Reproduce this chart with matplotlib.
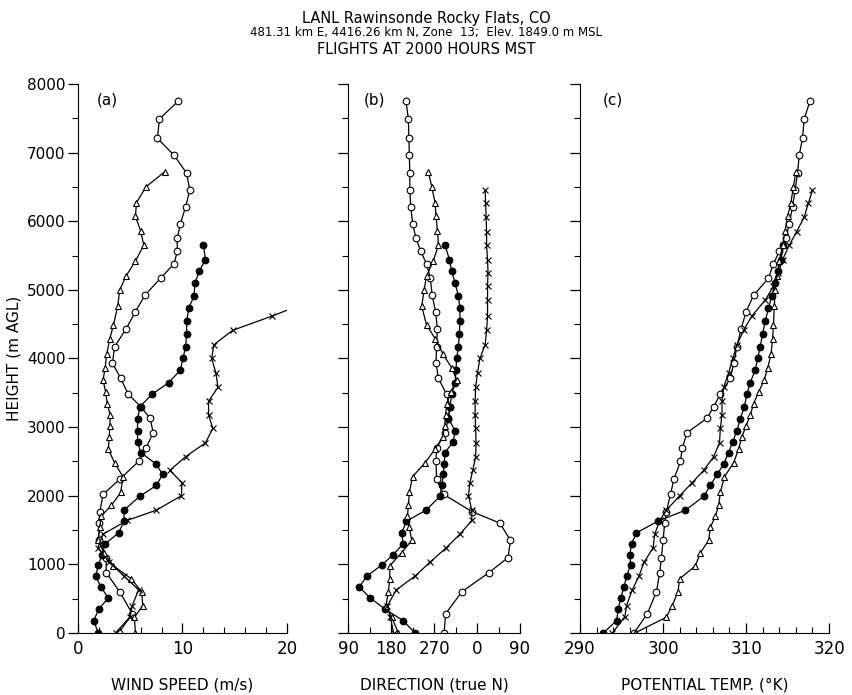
import matplotlib
matplotlib.use("Agg")
import matplotlib.pyplot as plt
import numpy as np
from matplotlib.ticker import MultipleLocator

# ---- flight 1: open circles ----
h_open = [0, 280, 600, 880, 1100, 1350, 1600, 1770, 2020, 2240, 2500, 2690, 2920, 3130, 3300,
          3480, 3710, 3930, 4170, 4430, 4680, 4920, 5170, 5380, 5560, 5750, 5960, 6210, 6450,
          6700, 6960, 7210, 7490, 7750]
ws_open = [3.9, 5.2, 4.0, 2.7, 2.7, 2.0, 2.0, 2.1, 2.4, 4.0, 5.8, 6.5, 7.2, 6.9, 6.0,
           4.8, 4.1, 3.3, 3.5, 4.6, 5.5, 6.4, 7.9, 9.2, 9.5, 9.5, 9.8, 10.3, 10.7,
           10.4, 9.2, 7.6, 7.8, 9.6]
wd_open = [291, 294, 328, 25, 65, 70, 48, 349, 290, 275, 274, 275, 293, 300, 303,
           296, 279, 274, 275, 277, 273, 266, 262, 254, 242, 232, 225, 221, 219,
           219, 218, 217, 216, 211]
th_open = [296.5, 298.1, 299.2, 299.6, 299.8, 300.0, 300.2, 300.4, 300.9, 301.3, 302.1, 302.3,
           302.9, 305.3, 306.1, 306.9, 308.1, 308.5, 308.9, 309.4, 310.0, 310.9, 312.7, 313.3,
           314.0, 314.8, 315.2, 315.6, 315.9, 316.2, 316.4, 316.8, 317.0, 317.7]

# ---- flight 2: filled circles ----
h_fill = [0, 180, 350, 510, 670, 830, 990, 1140, 1300, 1460, 1630, 1790, 1990, 2150, 2310,
          2460, 2630, 2790, 2950, 3120, 3300, 3480, 3650, 3830, 4000, 4170, 4360, 4540,
          4730, 4910, 5100, 5270, 5440, 5650]
ws_fill = [1.95, 1.5, 2.0, 2.9, 2.2, 1.7, 1.95, 2.3, 2.6, 3.9, 4.4, 4.4, 5.9, 7.5, 8.1,
           7.5, 6.0, 5.7, 5.7, 5.7, 5.95, 7.1, 8.7, 9.8, 10.05, 10.3, 10.4, 10.4,
           10.6, 11.1, 11.2, 11.6, 12.2, 12.0]
wd_fill = [230, 205, 167, 136, 113, 129, 160, 184, 205, 202, 212, 253, 282, 286, 289,
           291, 293, 310, 314, 300, 303, 307, 314, 316, 317, 321, 323, 324,
           324, 321, 314, 307, 302, 293]
th_fill = [292.8, 294.4, 294.6, 294.9, 295.3, 295.6, 296.1, 296.0, 296.2, 296.8, 299.4, 302.7,
           304.9, 305.7, 306.5, 307.3, 307.9, 308.4, 308.9, 309.3, 309.8, 310.1, 310.5, 311.1,
           311.4, 311.7, 312.0, 312.3, 312.7, 313.1, 313.5, 313.8, 314.2, 314.5]

# ---- flight 3: triangles ----
h_tri = [0, 230, 400, 600, 790, 980, 1170, 1350, 1540, 1700, 1860, 2050, 2280, 2480, 2680,
         2860, 3020, 3170, 3340, 3510, 3690, 3860, 4060, 4290, 4490, 4760, 5000, 5200,
         5420, 5650, 5860, 6070, 6270, 6500, 6720]
ws_tri = [5.5, 5.4, 6.2, 6.1, 5.1, 3.4, 2.5, 1.9, 2.1, 2.2, 3.2, 4.1, 4.3, 3.5, 2.9,
          3.0, 3.05, 3.1, 2.8, 2.65, 2.4, 2.6, 2.75, 3.05, 3.4, 3.8, 4.0, 4.6,
          5.5, 6.3, 6.0, 5.5, 5.6, 6.5, 8.3]
wd_tri = [195, 181, 169, 174, 177, 177, 202, 223, 218, 214, 216, 218, 225, 251, 272,
          288, 292, 294, 296, 305, 317, 307, 289, 272, 254, 244, 249, 254,
          268, 279, 277, 274, 272, 265, 258]
th_tri = [296.6, 300.4, 301.1, 301.8, 302.0, 303.9, 304.5, 305.5, 305.7, 306.3, 306.7, 306.9,
          307.4, 308.5, 309.1, 309.5, 310.0, 310.5, 310.9, 311.5, 312.2, 312.6, 313.0, 313.2,
          313.3, 313.4, 313.5, 313.7, 314.0, 314.4, 314.7, 315.0, 315.4, 315.7, 316.0]

# ---- flight 4: crosses ----
h_x = [0, 240, 400, 630, 830, 1030, 1240, 1440, 1640, 1790, 2000, 2190, 2370, 2570, 2770,
       2980, 3180, 3380, 3580, 3790, 4000, 4200, 4410, 4620, 4850, 5050, 5250, 5440, 5650,
       5850, 6060, 6260, 6450]
ws_x = [3.6, 5.0, 5.2, 5.8, 4.4, 3.0, 1.9, 2.4, 4.7, 7.5, 9.9, 9.95, 8.8, 10.3, 12.2,
        12.9, 12.5, 12.5, 13.4, 13.2, 12.8, 13.0, 14.8, 18.6, 22.5, np.nan, np.nan, np.nan,
        np.nan, np.nan, np.nan, np.nan, np.nan]
wd_x = [185, 178, 172, 191, 230, 261, 295, 324, 349, 349, 342, 345, 351, 357, 358,
        357, 356, 356, 357, 1, 6, 17, 20, 22, 22, 22, 23, 22, 20, 20, 19, 18, 17]
th_x = [293.9, 295.4, 295.6, 296.3, 297.1, 297.7, 298.8, 299.0, 299.6, 300.4, 302.0, 303.5,
        304.9, 306.1, 306.8, 306.9, 307.1, 307.1, 307.3, 307.9, 308.4, 308.9, 309.7, 310.7,
        312.3, 313.3, 313.9, 314.4, 315.2, 316.1, 317.0, 317.5, 318.0]

dir_ticks = [90, 180, 270, 360, 450]
dir_labels = ["90", "180", "270", "0", "90"]


def unwrap(d):
    d = np.array(d, dtype=float)
    return np.where(d < 90, d + 360, d)


flights = [
    (h_open, ws_open, wd_open, th_open, dict(marker="o", mfc="white", ms=4.8)),
    (h_fill, ws_fill, wd_fill, th_fill, dict(marker="o", mfc="black", ms=4.8)),
    (h_tri, ws_tri, wd_tri, th_tri, dict(marker="^", mfc="white", ms=4.8)),
    (h_x, ws_x, wd_x, th_x, dict(marker="x", ms=4.8)),
]

fig = plt.figure(figsize=(8.52, 6.95), dpi=100)
ax_a = fig.add_axes([0.0915, 0.0892, 0.2453, 0.790])
ax_b = fig.add_axes([0.4088, 0.0892, 0.2015, 0.790])
ax_c = fig.add_axes([0.6808, 0.0892, 0.2923, 0.790])

for h, ws, wd, th, st in flights:
    ax_a.plot(ws, h, color="black", lw=0.9, mec="black", mew=0.8, **st)
    ax_b.plot(unwrap(wd), h, color="black", lw=0.9, mec="black", mew=0.8, **st)
    ax_c.plot(th, h, color="black", lw=0.9, mec="black", mew=0.8, **st)

ax_a.set_xlim(0, 20)
ax_a.xaxis.set_major_locator(MultipleLocator(10))
ax_a.xaxis.set_minor_locator(MultipleLocator(2))
ax_b.set_xlim(90, 450)
ax_b.set_xticks(dir_ticks)
ax_b.set_xticklabels(dir_labels)
ax_b.xaxis.set_minor_locator(MultipleLocator(45))
ax_c.set_xlim(290, 320)
ax_c.xaxis.set_major_locator(MultipleLocator(10))
ax_c.xaxis.set_minor_locator(MultipleLocator(2))

for ax, lab, tag in [(ax_a, "WIND SPEED (m/s)", "(a)"),
                     (ax_b, "DIRECTION (true N)", "(b)"),
                     (ax_c, "POTENTIAL TEMP. (°K)", "(c)")]:
    ax.set_ylim(0, 8000)
    ax.yaxis.set_major_locator(MultipleLocator(1000))
    ax.yaxis.set_minor_locator(MultipleLocator(500))
    ax.spines["top"].set_visible(False)
    ax.spines["right"].set_visible(False)
    ax.tick_params(axis="y", which="major", direction="out", length=7, width=0.9)
    ax.tick_params(axis="y", which="minor", direction="out", length=4, width=0.8)
    ax.tick_params(axis="x", which="major", direction="in", length=7, width=0.9)
    ax.tick_params(axis="x", which="minor", direction="in", length=4, width=0.8)
    ax.tick_params(axis="x", labelsize=12, pad=5)
    ax.tick_params(axis="y", labelsize=11, pad=2)
    ax.set_xlabel(lab, fontsize=11, labelpad=14)
    ax.text(0.09, 0.985, tag, transform=ax.transAxes, fontsize=11, va="top", ha="left")
    if ax is not ax_a:
        ax.set_yticklabels([])

ax_a.set_ylabel("HEIGHT (m AGL)", fontsize=11, labelpad=4)

fig.text(0.5, 0.984, "LANL Rawinsonde Rocky Flats, CO", ha="center", va="top", fontsize=10.5)
fig.text(0.5, 0.962, "481.31 km E, 4416.26 km N, Zone  13;  Elev. 1849.0 m MSL",
         ha="center", va="top", fontsize=8.5)
fig.text(0.5, 0.940, "FLIGHTS AT 2000 HOURS MST", ha="center", va="top", fontsize=10.5)

fig.savefig("out.png", dpi=100)
